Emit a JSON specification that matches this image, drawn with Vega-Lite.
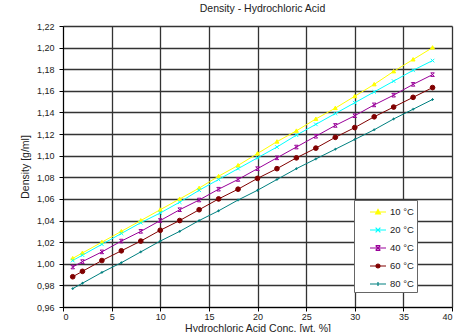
{
  "$schema": "https://vega.github.io/schema/vega-lite/v6.json",
  "autosize": {"type": "none"},
  "padding": {"left": 63, "top": 26, "right": 2, "bottom": 25},
  "width": 389,
  "height": 281,
  "background": "white",
  "config": {
    "font": "Liberation Sans",
    "view": {"stroke": null},
    "axis": {"gridColor": "#333", "gridWidth": 1.3, "gridOpacity": 1, "domainColor": "#000", "tickColor": "#000", "tickSize": 4, "labelFontSize": 9, "labelColor": "#222", "titleFontSize": 10.5, "titleFontWeight": "normal", "titleColor": "#222"}
  },
  "title": {"text": "Density - Hydrochloric Acid", "fontSize": 10.5, "fontWeight": "normal", "color": "#222", "offset": 8, "dx": 5},
  "data": {"values": [
    {"c":1,"t":"10 °C","d":1.005},{"c":2,"t":"10 °C","d":1.010},{"c":4,"t":"10 °C","d":1.020},{"c":6,"t":"10 °C","d":1.030},{"c":8,"t":"10 °C","d":1.040},{"c":10,"t":"10 °C","d":1.050},{"c":12,"t":"10 °C","d":1.060},{"c":14,"t":"10 °C","d":1.070},{"c":16,"t":"10 °C","d":1.081},{"c":18,"t":"10 °C","d":1.091},{"c":20,"t":"10 °C","d":1.102},{"c":22,"t":"10 °C","d":1.113},{"c":24,"t":"10 °C","d":1.123},{"c":26,"t":"10 °C","d":1.134},{"c":28,"t":"10 °C","d":1.144},{"c":30,"t":"10 °C","d":1.155},{"c":32,"t":"10 °C","d":1.166},{"c":34,"t":"10 °C","d":1.178},{"c":36,"t":"10 °C","d":1.189},{"c":38,"t":"10 °C","d":1.200},
    {"c":1,"t":"20 °C","d":1.003},{"c":2,"t":"20 °C","d":1.008},{"c":4,"t":"20 °C","d":1.018},{"c":6,"t":"20 °C","d":1.028},{"c":8,"t":"20 °C","d":1.038},{"c":10,"t":"20 °C","d":1.047},{"c":12,"t":"20 °C","d":1.057},{"c":14,"t":"20 °C","d":1.068},{"c":16,"t":"20 °C","d":1.078},{"c":18,"t":"20 °C","d":1.088},{"c":20,"t":"20 °C","d":1.098},{"c":22,"t":"20 °C","d":1.108},{"c":24,"t":"20 °C","d":1.119},{"c":26,"t":"20 °C","d":1.129},{"c":28,"t":"20 °C","d":1.139},{"c":30,"t":"20 °C","d":1.149},{"c":32,"t":"20 °C","d":1.159},{"c":34,"t":"20 °C","d":1.169},{"c":36,"t":"20 °C","d":1.179},{"c":38,"t":"20 °C","d":1.188},
    {"c":1,"t":"40 °C","d":0.997},{"c":2,"t":"40 °C","d":1.002},{"c":4,"t":"40 °C","d":1.011},{"c":6,"t":"40 °C","d":1.021},{"c":8,"t":"40 °C","d":1.030},{"c":10,"t":"40 °C","d":1.040},{"c":12,"t":"40 °C","d":1.050},{"c":14,"t":"40 °C","d":1.059},{"c":16,"t":"40 °C","d":1.069},{"c":18,"t":"40 °C","d":1.078},{"c":20,"t":"40 °C","d":1.088},{"c":22,"t":"40 °C","d":1.098},{"c":24,"t":"40 °C","d":1.108},{"c":26,"t":"40 °C","d":1.118},{"c":28,"t":"40 °C","d":1.128},{"c":30,"t":"40 °C","d":1.137},{"c":32,"t":"40 °C","d":1.147},{"c":34,"t":"40 °C","d":1.156},{"c":36,"t":"40 °C","d":1.166},{"c":38,"t":"40 °C","d":1.175},
    {"c":1,"t":"60 °C","d":0.988},{"c":2,"t":"60 °C","d":0.993},{"c":4,"t":"60 °C","d":1.003},{"c":6,"t":"60 °C","d":1.012},{"c":8,"t":"60 °C","d":1.021},{"c":10,"t":"60 °C","d":1.031},{"c":12,"t":"60 °C","d":1.040},{"c":14,"t":"60 °C","d":1.050},{"c":16,"t":"60 °C","d":1.060},{"c":18,"t":"60 °C","d":1.069},{"c":20,"t":"60 °C","d":1.079},{"c":22,"t":"60 °C","d":1.088},{"c":24,"t":"60 °C","d":1.098},{"c":26,"t":"60 °C","d":1.107},{"c":28,"t":"60 °C","d":1.117},{"c":30,"t":"60 °C","d":1.126},{"c":32,"t":"60 °C","d":1.136},{"c":34,"t":"60 °C","d":1.145},{"c":36,"t":"60 °C","d":1.154},{"c":38,"t":"60 °C","d":1.163},
    {"c":1,"t":"80 °C","d":0.977},{"c":2,"t":"80 °C","d":0.982},{"c":4,"t":"80 °C","d":0.992},{"c":6,"t":"80 °C","d":1.001},{"c":8,"t":"80 °C","d":1.011},{"c":10,"t":"80 °C","d":1.021},{"c":12,"t":"80 °C","d":1.030},{"c":14,"t":"80 °C","d":1.040},{"c":16,"t":"80 °C","d":1.049},{"c":18,"t":"80 °C","d":1.059},{"c":20,"t":"80 °C","d":1.068},{"c":22,"t":"80 °C","d":1.078},{"c":24,"t":"80 °C","d":1.088},{"c":26,"t":"80 °C","d":1.097},{"c":28,"t":"80 °C","d":1.106},{"c":30,"t":"80 °C","d":1.115},{"c":32,"t":"80 °C","d":1.124},{"c":34,"t":"80 °C","d":1.134},{"c":36,"t":"80 °C","d":1.143},{"c":38,"t":"80 °C","d":1.152}
  ]},
  "encoding": {
    "x": {"field": "c", "type": "quantitative", "scale": {"domain": [0, 40], "nice": false},
      "axis": {"values": [0,5,10,15,20,25,30,35,40], "title": "Hydrochloric Acid Conc. [wt. %]", "titlePadding": 2, "labelPadding": 1}},
    "y": {"field": "d", "type": "quantitative", "scale": {"domain": [0.96, 1.22], "nice": false, "zero": false},
      "axis": {"values": [0.96,0.98,1.0,1.02,1.04,1.06,1.08,1.1,1.12,1.14,1.16,1.18,1.2,1.22], "labelExpr": "replace(format(datum.value, '.2f'), '.', ',')", "title": "Density [g/ml]", "titlePadding": 6, "labelPadding": 5}}
  },
  "layer": [
    {
      "mark": {"type": "line", "strokeWidth": 1},
      "encoding": {
        "stroke": {"field": "t", "type": "nominal", "scale": {"domain": ["10 °C","20 °C","40 °C","60 °C","80 °C"], "range": ["#FFFF00","#00FFFF","#990099","#800000","#008080"]},
          "legend": {
            "orient": "none", "legendX": 291, "legendY": 174, "title": null,
            "padding": 3, "symbolSize": 256, "symbolOffset": 12, "labelOffset": 3, "rowPadding": 4,
            "labelFontSize": 9.5, "labelColor": "#222", "labelFont": "Liberation Sans",
            "labelExpr": "datum.label + '      '",
            "strokeColor": "#666", "fillColor": "white", "symbolStrokeWidth": 1.2,
            "encode": {"symbols": {"update": {
              "shape": {"signal": "datum.value == '10 °C' ? 'M-1,0H1M-0.3,0.25L0,-0.3L0.3,0.25Z' : datum.value == '20 °C' ? 'M-1,0H1M-0.3,-0.3L0.3,0.3M-0.3,0.3L0.3,-0.3' : datum.value == '40 °C' ? 'M-1,0H1M-0.3,-0.3L0.3,0.3M-0.3,0.3L0.3,-0.3M-0.3,-0.3H0.3M-0.3,0.3H0.3' : datum.value == '60 °C' ? 'M-1,0H1M-0.25,0A0.25,0.25,0,1,0,0.25,0A0.25,0.25,0,1,0,-0.25,0Z' : 'M-1,0H1M0,-0.25V0.25'"},
              "fill": {"signal": "scale('stroke', datum.value)"},
              "size": {"value": 256}
            }}}
          }}
      }
    },
    {
      "transform": [{"filter": "datum.t == '10 °C'"}],
      "mark": {"type": "point", "filled": true, "opacity": 1, "size": 36, "strokeWidth": 1, "color": "#FFFF00", "stroke": "#FFFF00", "shape": "M-0.65,0.5L0,-0.65L0.65,0.5Z"}
    },
    {
      "transform": [{"filter": "datum.t == '20 °C'"}],
      "mark": {"type": "point", "filled": true, "opacity": 1, "size": 36, "strokeWidth": 1, "color": "#00FFFF", "stroke": "#00FFFF", "shape": "M-0.6,-0.6L0.6,0.6M-0.6,0.6L0.6,-0.6"}
    },
    {
      "transform": [{"filter": "datum.t == '40 °C'"}],
      "mark": {"type": "point", "filled": true, "opacity": 1, "size": 36, "strokeWidth": 1, "color": "#990099", "stroke": "#990099", "shape": "M-0.6,-0.6L0.6,0.6M-0.6,0.6L0.6,-0.6M-0.6,-0.6H0.6M-0.6,0.6H0.6"}
    },
    {
      "transform": [{"filter": "datum.t == '60 °C'"}],
      "mark": {"type": "point", "filled": true, "opacity": 1, "size": 22, "strokeWidth": 1, "color": "#800000", "stroke": "#800000", "shape": "circle"}
    },
    {
      "transform": [{"filter": "datum.t == '80 °C'"}],
      "mark": {"type": "point", "filled": true, "opacity": 1, "size": 30, "strokeWidth": 1, "color": "#008080", "stroke": "#008080", "shape": "M-0.5,0H0.5M0,-0.5V0.5"}
    }
  ]
}
